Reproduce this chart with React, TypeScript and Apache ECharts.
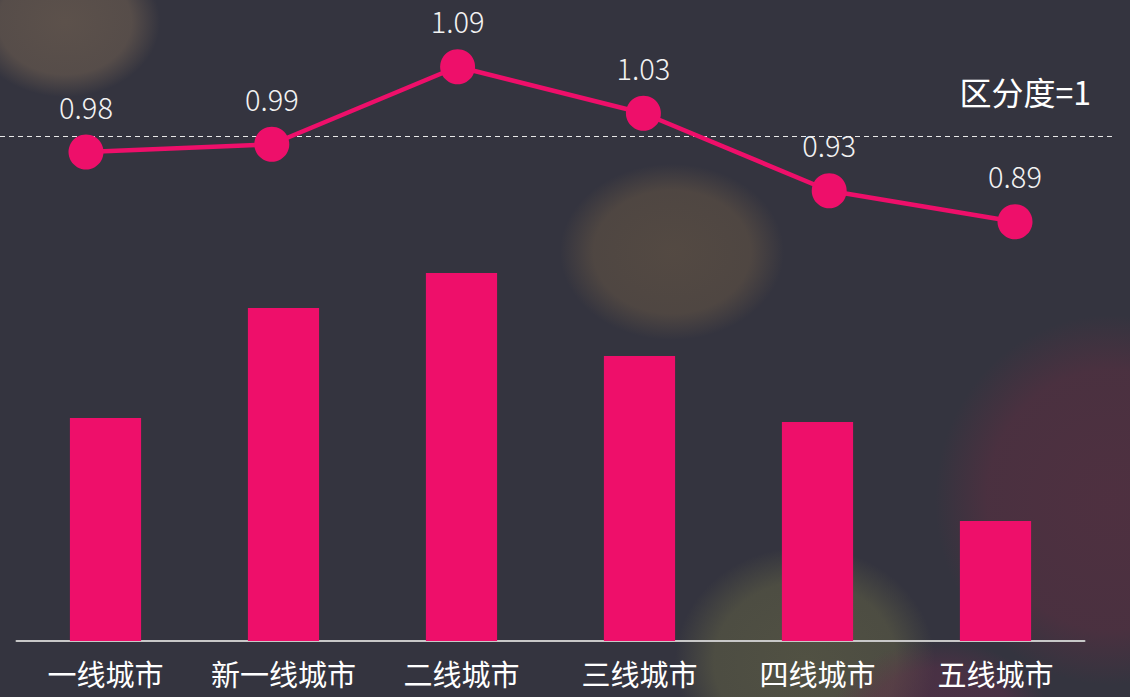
import React, { useEffect, useRef } from "react";
import * as echarts from "echarts";

const categories = ["一线城市", "新一线城市", "二线城市", "三线城市", "四线城市", "五线城市"];
const barValues = [22.3, 33.3, 36.8, 28.5, 21.9, 12.0];
const lineValues = [0.98, 0.99, 1.09, 1.03, 0.93, 0.89];
const thresholdValue = 1;
const thresholdLabel = "区分度=1";

const PINK = "#EE0F6A";
const FONT = "'Noto Sans CJK SC', 'Noto Sans', sans-serif";

function bokeh(cx: number, cy: number, rx: number, ry: number, color: string, alpha: number) {
  return {
    type: "ellipse",
    silent: true,
    z: -10,
    shape: { cx, cy, rx, ry },
    style: {
      fill: {
        type: "radial",
        x: 0.5,
        y: 0.5,
        r: 0.5,
        colorStops: [
          { offset: 0, color: `rgba(${color},${alpha})` },
          { offset: 0.7, color: `rgba(${color},${alpha * 0.85})` },
          { offset: 1, color: `rgba(${color},0)` },
        ],
      },
    },
  };
}

export default function App() {
  const ref = useRef<HTMLDivElement>(null);
  useEffect(() => {
    document.body.style.margin = "0";
    const chart = echarts.init(ref.current!, null, { renderer: "svg" });
    chart.setOption({
      animation: false,
      backgroundColor: "#34343F",
      graphic: [
        bokeh(65, 22, 95, 75, "125,105,85", 0.55),
        bokeh(672, 252, 112, 88, "115,95,70", 0.5),
        bokeh(805, 662, 130, 115, "105,105,70", 0.55),
        bokeh(1110, 500, 175, 185, "100,45,65", 0.55),
        bokeh(940, 735, 115, 95, "100,45,75", 0.5),
      ],
      grid: [
        { left: 16.5, width: 1068, top: 241, bottom: 56 },
        { left: 86, right: 115, top: 59, height: 465 },
        { left: 0, right: 17, top: 59, height: 465 },
      ],
      xAxis: [
        {
          type: "category",
          gridIndex: 0,
          data: categories,
          axisLine: { lineStyle: { color: "#C8C8C8", width: 2 } },
          axisTick: { show: false },
          axisLabel: {
            interval: 0,
            color: "#FFFFFF",
            fontSize: 29,
            fontFamily: FONT,
            margin: 17,
          },
        },
        {
          type: "category",
          gridIndex: 1,
          data: categories,
          boundaryGap: false,
          show: false,
        },
        { type: "value", gridIndex: 2, min: 0, max: 1, show: false },
      ],
      yAxis: [
        { type: "value", gridIndex: 0, min: 0, max: 40, show: false },
        { type: "value", gridIndex: 1, min: 0.5, max: 1.1, show: false },
        { type: "value", gridIndex: 2, min: 0.5, max: 1.1, show: false },
      ],
      series: [
        {
          type: "bar",
          xAxisIndex: 0,
          yAxisIndex: 0,
          data: barValues,
          barWidth: "40%",
          itemStyle: { color: PINK },
        },
        {
          type: "line",
          xAxisIndex: 1,
          yAxisIndex: 1,
          data: lineValues,
          symbol: "circle",
          symbolSize: 35,
          lineStyle: { color: PINK, width: 4.5 },
          itemStyle: { color: PINK },
          label: {
            show: true,
            position: "top",
            distance: 16,
            color: "#F2F2F2",
            fontSize: 29,
            lineHeight: 26,
            fontFamily: FONT,
            fontWeight: 300,
            formatter: (p: any) => p.value.toFixed(2),
          },
          z: 5,
        },
        {
          type: "line",
          xAxisIndex: 2,
          yAxisIndex: 2,
          data: [],
          markLine: {
            silent: true,
            symbol: "none",
            lineStyle: { color: "#E8E8E8", type: [5, 4], width: 1 },
            label: {
              show: true,
              position: "insideEndTop",
              formatter: thresholdLabel,
              color: "#FFFFFF",
              fontSize: 32,
              fontFamily: FONT,
              distance: [22, 30],
            },
            data: [{ yAxis: thresholdValue }],
          },
        },
      ],
    });
    return () => chart.dispose();
  }, []);
  return <div ref={ref} style={{ width: 1130, height: 697 }} />;
}
